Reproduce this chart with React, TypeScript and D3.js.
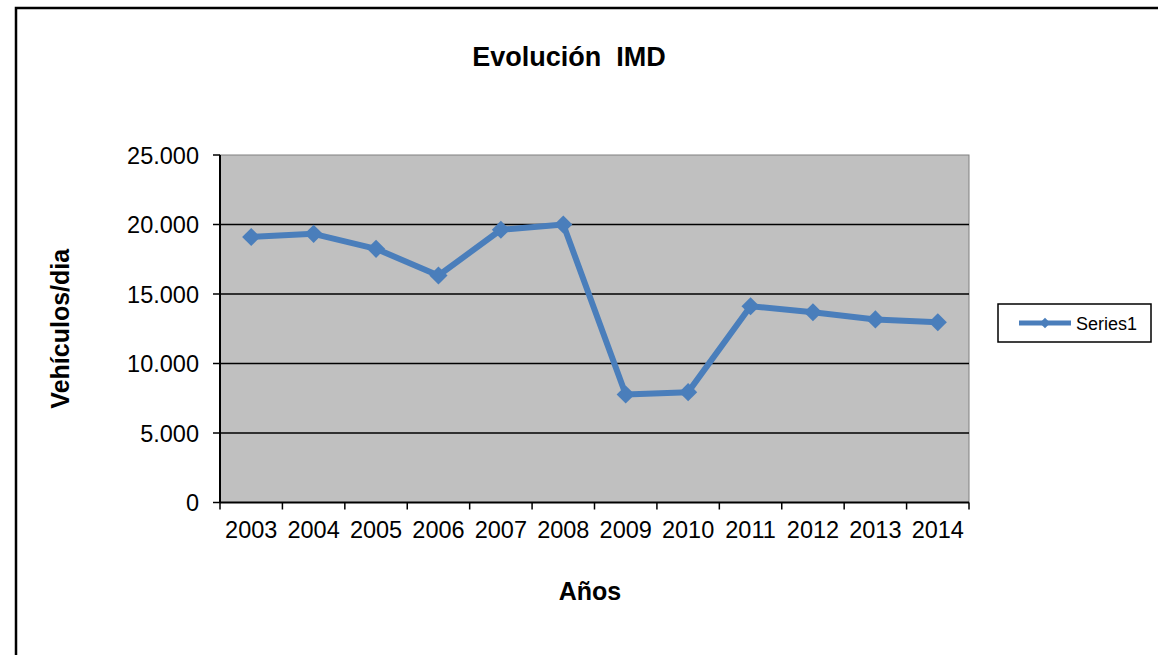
import React from 'react';
import * as d3 from 'd3';

const years = ['2003', '2004', '2005', '2006', '2007', '2008', '2009', '2010', '2011', '2012', '2013', '2014'];
const series1 = [19100, 19330, 18250, 16330, 19620, 20000, 7770, 7940, 14120, 13690, 13170, 12970];
const yTicks = [0, 5000, 10000, 15000, 20000, 25000];

const W = 1158;
const H = 655;
const plot = { left: 220, top: 155, right: 969, bottom: 502.5 };
const font = '"Liberation Sans", Arial, sans-serif';
const blue = '#4a7ebb';

// tick label like "25.000"
const label = (v: number) => (v === 0 ? '0' : `${Math.floor(v / 1000)}.${String(v % 1000).padStart(3, '0')}`);

const App: React.FC = () => {
  const x = d3.scaleBand<string>().domain(years).range([plot.left, plot.right]);
  const y = d3.scaleLinear().domain([0, 25000]).range([plot.bottom, plot.top]);
  const cx = (yr: string) => (x(yr) as number) + x.bandwidth() / 2;

  const line = d3
    .line<number>()
    .x((_, i) => cx(years[i]))
    .y((d) => y(d));

  const diamond = d3.symbol().type(d3.symbolDiamond2).size(210)();
  const legendDiamond = d3.symbol().type(d3.symbolDiamond2).size(70)();

  return (
    <svg
      width={W}
      height={H}
      style={{ position: 'absolute', left: 0, top: 0, background: '#fff' }}
      fontFamily={font}
    >
      <rect x={0} y={0} width={W} height={H} fill="#fff" />
      {/* outer chart border */}
      <path d={`M16,${H + 5} L16,8 L${W + 5},8`} fill="none" stroke="#000" strokeWidth={2.5} />

      <text x={569} y={66} textAnchor="middle" fontSize={27} fontWeight="bold" style={{ whiteSpace: 'pre' }}>
        {'Evolución  IMD'}
      </text>

      {/* plot area */}
      <rect
        x={plot.left}
        y={plot.top}
        width={plot.right - plot.left}
        height={plot.bottom - plot.top}
        fill="#c0c0c0"
        stroke="#808080"
        strokeWidth={1}
      />

      {yTicks.map((t) => (
        <g key={t}>
          {t > 0 && t < 25000 && (
            <line x1={plot.left} x2={plot.right} y1={y(t)} y2={y(t)} stroke="#000" strokeWidth={1.5} />
          )}
          <line x1={plot.left - 7} x2={plot.left} y1={y(t)} y2={y(t)} stroke="#000" strokeWidth={1.5} />
          <text x={plot.left - 21} y={y(t) + 8.5} textAnchor="end" fontSize={23.5}>
            {label(t)}
          </text>
        </g>
      ))}

      {/* axes */}
      <line x1={plot.left} x2={plot.left} y1={plot.top} y2={plot.bottom} stroke="#000" strokeWidth={2} />
      <line x1={plot.left} x2={plot.right} y1={plot.bottom} y2={plot.bottom} stroke="#000" strokeWidth={2} />

      {years.map((yr, i) => (
        <g key={yr}>
          <line
            x1={x(yr) as number}
            x2={x(yr) as number}
            y1={plot.bottom}
            y2={plot.bottom + 7}
            stroke="#000"
            strokeWidth={1.5}
          />
          {i === years.length - 1 && (
            <line x1={plot.right} x2={plot.right} y1={plot.bottom} y2={plot.bottom + 7} stroke="#000" strokeWidth={1.5} />
          )}
          <text x={cx(yr)} y={538} textAnchor="middle" fontSize={23.5}>
            {yr}
          </text>
        </g>
      ))}

      <path d={line(series1) || ''} fill="none" stroke={blue} strokeWidth={6} strokeLinejoin="round" />
      {series1.map((v, i) => (
        <path key={i} d={diamond || ''} transform={`translate(${cx(years[i])},${y(v)})`} fill={blue} />
      ))}

      <text x={590} y={600} textAnchor="middle" fontSize={25} fontWeight="bold">
        Años
      </text>
      <text
        transform={`translate(69,${(plot.top + plot.bottom) / 2}) rotate(-90)`}
        textAnchor="middle"
        fontSize={25}
        fontWeight="bold"
      >
        Vehículos/dia
      </text>

      {/* legend */}
      <rect x={998} y={304} width={153} height={38} fill="#fff" stroke="#000" strokeWidth={1.5} />
      <line x1={1019} x2={1071} y1={323} y2={323} stroke={blue} strokeWidth={5} />
      <path d={legendDiamond || ''} transform="translate(1045,323)" fill={blue} />
      <text x={1076} y={329.5} fontSize={18}>
        Series1
      </text>
    </svg>
  );
};

export default App;
